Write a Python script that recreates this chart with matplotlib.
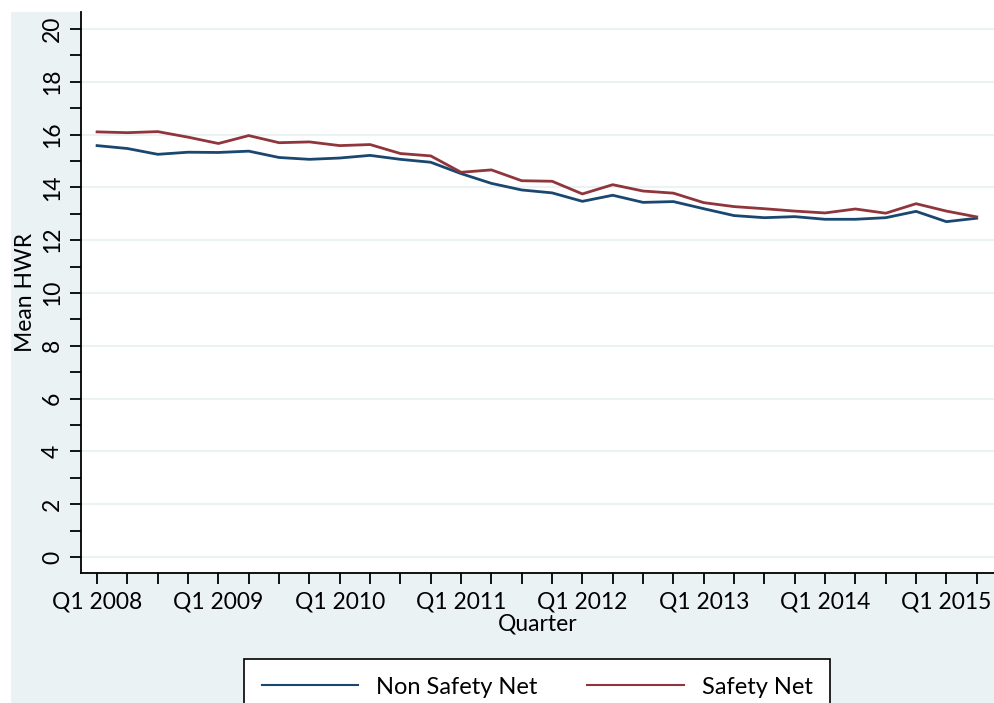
import matplotlib.pyplot as plt
import numpy as np
from matplotlib.patches import Rectangle
from matplotlib.ticker import MultipleLocator

plt.rcParams['font.family'] = ['Lato', 'DejaVu Sans']

quarters = ['Q%d %d' % (q, y) for y in range(2008, 2016) for q in range(1, 5)][:30]
non_safety_net = [15.58, 15.47, 15.25, 15.33, 15.32, 15.37, 15.13, 15.06, 15.11, 15.21,
                  15.06, 14.95, 14.52, 14.15, 13.90, 13.79, 13.47, 13.70, 13.43, 13.46,
                  13.19, 12.93, 12.85, 12.89, 12.79, 12.79, 12.85, 13.09, 12.70, 12.83]
safety_net = [16.10, 16.07, 16.11, 15.90, 15.66, 15.96, 15.69, 15.72, 15.58, 15.62,
              15.28, 15.19, 14.57, 14.66, 14.25, 14.23, 13.75, 14.10, 13.86, 13.78,
              13.42, 13.27, 13.19, 13.10, 13.03, 13.18, 13.02, 13.38, 13.10, 12.88]

bg = '#EAF2F3'
fig = plt.figure(figsize=(9.94, 7.03), dpi=100, facecolor='white')
fig.patches.append(Rectangle((11 / 994, 0), 1, (703 - 12) / 703, transform=fig.transFigure,
                             facecolor=bg, edgecolor='none', zorder=-10))
ax = fig.add_axes([81 / 994, 130 / 703, 913 / 994, 561 / 703])

x = np.arange(len(quarters))
ax.plot(x, non_safety_net, color='#1A476F', lw=2, label='Non Safety Net')
ax.plot(x, safety_net, color='#90353B', lw=2, label='Safety Net')

ax.set_xlim(-0.53, 29.57)
ax.set_ylim(-0.606, 20.64)
ax.yaxis.set_major_locator(MultipleLocator(2))
ax.yaxis.set_minor_locator(MultipleLocator(1))
ax.set_xticks(x, minor=True)
ax.set_xticks(x[::4])
ax.set_xticklabels(quarters[::4])
ax.grid(axis='y', color=bg, lw=1.5)
ax.set_axisbelow(True)
for s in ['top', 'right']:
    ax.spines[s].set_visible(False)
for s in ['left', 'bottom']:
    ax.spines[s].set_linewidth(1.3)
ax.tick_params(axis='both', which='both', length=8, width=1.3, labelsize=16.5, pad=5)
for lab in ax.get_yticklabels():
    lab.set_rotation(90)
    lab.set_va('center')
ax.set_ylabel('Mean HWR', fontsize=16.5, labelpad=4)
ax.set_xlabel('Quarter', fontsize=16.5, labelpad=1)

leg = fig.legend(loc='upper center', bbox_to_anchor=(537 / 994, 44 / 703), ncol=2,
                 fontsize=17, frameon=True, fancybox=False, handlelength=4.1,
                 handletextpad=0.75, columnspacing=2.1, borderpad=0.75, borderaxespad=0)
leg.get_frame().set_edgecolor('black')
leg.get_frame().set_linewidth(1.2)
leg.get_frame().set_alpha(1)
for line in leg.get_lines():
    line.set_linewidth(1.5)

plt.savefig('out.png', dpi=100, facecolor='white')
plt.close()
